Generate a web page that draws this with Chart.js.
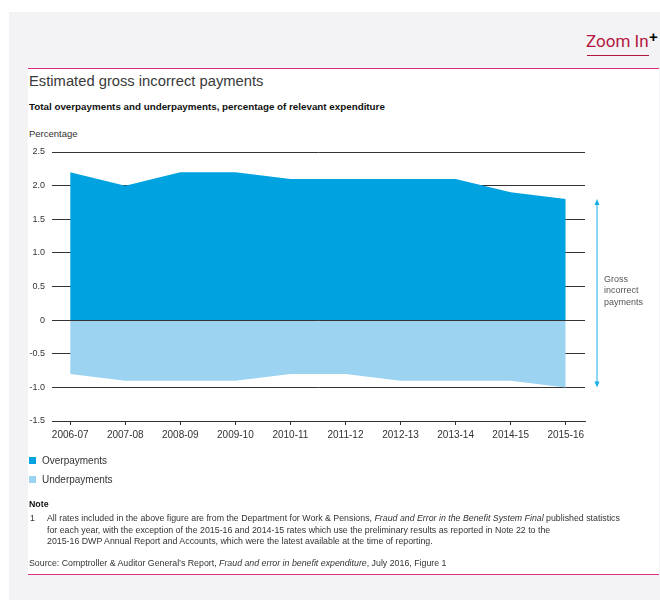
<!DOCTYPE html>
<html>
<head>
<meta charset="utf-8">
<script src="https://cdn.jsdelivr.net/npm/chart.js@4"></script>
<style>
  body { margin:0; width:660px; height:600px; background:#fff; position:relative; overflow:hidden;
         font-family:"Liberation Sans", Arial, sans-serif; color:#333; }
  .abs { position:absolute; white-space:nowrap; }
  #panel { left:9px; top:12px; width:651px; height:588px; background:#f3f3f5; }
  #card { left:28px; top:68px; width:631px; height:507px; background:#fff; }
  .pink { left:28px; width:631px; height:1.5px; background:#d62f80; }
  #zoom { left:586px; top:31px; font-family:Roboto, sans-serif; font-size:17px; line-height:20px; color:#b3163f; }
  #zoomline { left:587px; top:54.5px; width:62px; height:1.5px; background:#b3163f; }
  #plus { left:649px; top:29px; font-size:15px; font-weight:bold; color:#000; line-height:15px; }
  #title { left:29px; top:72px; font-size:14.75px; line-height:18px; color:#3a3a3a; }
  #subtitle { left:29px; top:101px; font-size:9.8px; line-height:12px; font-weight:bold; color:#111; }
  #ylab { left:29px; top:128px; font-size:9.5px; line-height:12px; color:#333; }
  #chart { position:absolute; left:0; top:0; }
  .leg { font-size:10px; line-height:12px; color:#333; }
  .sq { width:7px; height:7px; }
  #annot { left:604px; top:274px; font-size:9px; line-height:11.3px; color:#555; }
  .note { font-size:8.8px; line-height:11.5px; color:#333; }
</style>
</head>
<body>
<div id="panel" class="abs"></div>
<div id="card" class="abs"></div>
<div class="abs pink" style="top:67.5px"></div>
<div class="abs pink" style="top:573.5px"></div>
<div id="zoom" class="abs">Zoom In</div>
<div id="zoomline" class="abs"></div>
<div id="plus" class="abs">+</div>
<div id="title" class="abs">Estimated gross incorrect payments</div>
<div id="subtitle" class="abs">Total overpayments and underpayments, percentage of relevant expenditure</div>
<div id="ylab" class="abs">Percentage</div>

<canvas id="chart" width="660" height="600"></canvas>

<div id="annot" class="abs">Gross<br>incorrect<br>payments</div>

<div class="abs sq" style="left:29px;top:457px;background:#00a2df"></div>
<div class="abs leg" style="left:42px;top:454.5px">Overpayments</div>
<div class="abs sq" style="left:29px;top:476px;background:#9bd3f1"></div>
<div class="abs leg" style="left:42px;top:473.5px">Underpayments</div>

<div class="abs note" style="left:29px;top:499px;font-weight:bold;color:#111">Note</div>
<div class="abs note" style="left:30px;top:513px">1</div>
<div class="abs note" style="left:47px;top:513px">All rates included in the above figure are from the Department for Work &amp; Pensions, <i>Fraud and Error in the Benefit System Final</i> published statistics<br>for each year, with the exception of the 2015-16 and 2014-15 rates which use the preliminary results as reported in Note 22 to the<br>2015-16 DWP Annual Report and Accounts, which were the latest available at the time of reporting.</div>
<div class="abs note" style="left:29px;top:558px">Source: Comptroller &amp; Auditor General’s Report, <i>Fraud and error in benefit expenditure</i>, July 2016, Figure 1</div>

<script>
// financial years
var years = ['2006-07','2007-08','2008-09','2009-10','2010-11','2011-12','2012-13','2013-14','2014-15','2015-16'];
// percentage of relevant expenditure
var overpayments  = [2.2, 2.0, 2.2, 2.2, 2.1, 2.1, 2.1, 2.1, 1.9, 1.8];
var underpayments = [-0.8, -0.9, -0.9, -0.9, -0.8, -0.8, -0.9, -0.9, -0.9, -1.0];
var yTicks = [-1.5, -1.0, -0.5, 0, 0.5, 1.0, 1.5, 2.0, 2.5];

function points(arr) {
  return arr.map(function(v, i){ return {x: i, y: v}; });
}

// zero line on top of the areas + the "gross" arrow on the right
var extras = {
  id: 'extras',
  afterDatasetsDraw: function(chart) {
    var ctx = chart.ctx, a = chart.chartArea, ys = chart.scales.y;
    ctx.save();
    var y0 = Math.round(ys.getPixelForValue(0)) + 0.5;
    ctx.strokeStyle = '#333';
    ctx.lineWidth = 1;
    ctx.beginPath();
    ctx.moveTo(a.left, y0);
    ctx.lineTo(a.right, y0);
    ctx.stroke();

    var x = a.right + 12;
    var top = ys.getPixelForValue(overpayments[overpayments.length - 1]);
    var bot = ys.getPixelForValue(underpayments[underpayments.length - 1]);
    ctx.strokeStyle = '#16aee8';
    ctx.fillStyle = '#16aee8';
    ctx.beginPath();
    ctx.moveTo(x, top + 4);
    ctx.lineTo(x, bot - 4);
    ctx.stroke();
    ctx.beginPath();
    ctx.moveTo(x, top); ctx.lineTo(x - 2.5, top + 6); ctx.lineTo(x + 2.5, top + 6); ctx.closePath();
    ctx.fill();
    ctx.beginPath();
    ctx.moveTo(x, bot); ctx.lineTo(x - 2.5, bot - 6); ctx.lineTo(x + 2.5, bot - 6); ctx.closePath();
    ctx.fill();
    ctx.restore();
  }
};

var ctx = document.getElementById('chart').getContext('2d');
var myChart = new Chart(ctx, {
  type: 'line',
  data: {
    datasets: [{
      label: 'Overpayments',
      data: points(overpayments),
      backgroundColor: '#00a2df',
      borderWidth: 0,
      pointRadius: 0,
      fill: 'origin',
      tension: 0
    }, {
      label: 'Underpayments',
      data: points(underpayments),
      backgroundColor: '#9bd3f1',
      borderWidth: 0,
      pointRadius: 0,
      fill: 'origin',
      tension: 0
    }]
  },
  plugins: [extras],
  options: {
    responsive: false,
    animation: false,
    layout: { padding: { left: 22, top: 152, right: 75, bottom: 149 } },
    plugins: { legend: { display: false }, tooltip: { enabled: false } },
    scales: {
      x: {
        type: 'linear',
        min: -0.33,
        max: 9.35,
        afterFit: function(s){ s.height = 30; },
        ticks: {
          stepSize: 1,
          includeBounds: false,
          autoSkip: false,
          maxRotation: 0,
          padding: 4,
          color: '#333',
          font: { family: 'Liberation Sans', size: 10 },
          callback: function(v){ return years[v] !== undefined ? years[v] : ''; }
        },
        grid: { drawOnChartArea: false, drawTicks: true, tickLength: 4, color: '#333' },
        border: { display: true, color: '#333', width: 1 }
      },
      y: {
        min: yTicks[0],
        max: yTicks[yTicks.length - 1],
        afterFit: function(s){ s.width = 30; },
        afterBuildTicks: function(s){ s.ticks = yTicks.map(function(v){ return {value: v}; }); },
        ticks: {
          padding: 7,
          color: '#333',
          font: { family: 'Liberation Sans', size: 9 },
          callback: function(v){ return v === 0 ? '0' : v.toFixed(1); }
        },
        grid: { color: '#333', lineWidth: 1, drawTicks: false },
        border: { display: false }
      }
    }
  }
});
</script>
</body>
</html>
